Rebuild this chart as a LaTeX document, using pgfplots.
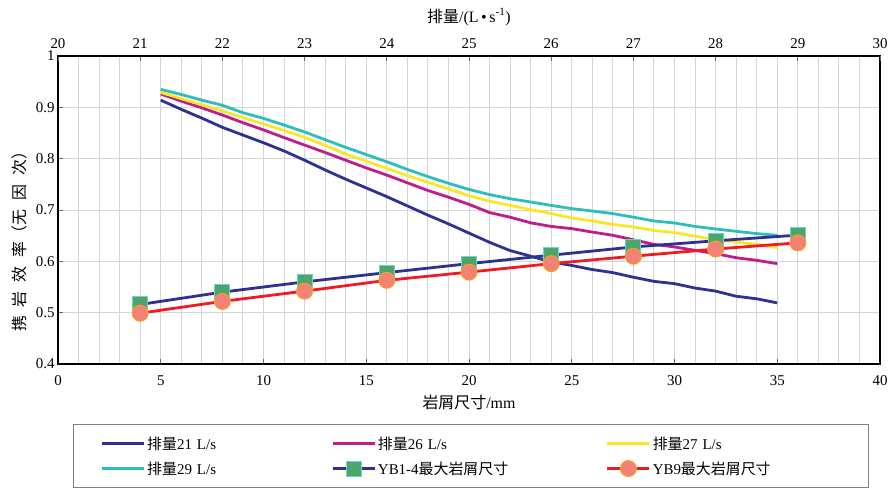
\documentclass[border=0pt]{standalone}
\usepackage{fontspec}
\setmainfont{Liberation Serif}
\newfontfamily\cjk{Noto Sans CJK SC}
\usepackage{pgfplots}
\pgfplotsset{compat=1.18}
\definecolor{c21}{RGB}{46,49,146}
\definecolor{c26}{RGB}{190,30,140}
\definecolor{c27}{RGB}{250,230,40}
\definecolor{c29}{RGB}{45,190,185}
\definecolor{cred}{RGB}{237,28,36}
\definecolor{sqfill}{RGB}{76,166,106}
\definecolor{sqedge}{RGB}{110,210,210}
\definecolor{cifill}{RGB}{242,130,120}
\definecolor{ciedge}{RGB}{247,160,30}
\definecolor{gridc}{RGB}{212,212,212}
\newcommand{\g}{\hspace{9bp}}
\begin{document}
\begin{tikzpicture}
\path[use as bounding box] (-58bp,-127bp) rectangle (831bp,364bp);
\begin{axis}[
  width=822bp, height=308bp, scale only axis,
  xmin=0, xmax=40, ymin=0.4, ymax=1,
  xtick={0,5,...,40}, minor xtick={0,1,...,40},
  ytick={0.4,0.5,0.6,0.7,0.8,0.9,1},
  xmajorgrids, xminorgrids, ymajorgrids,
  grid style={gridc, line width=1bp},
  axis line style={black, line width=1.2bp},
  tick align=inside, major tick length=5bp, minor tick length=0pt,
  tick style={black!60, line width=0.8bp},
  xtick pos=lower, ytick pos=left,
  ticklabel style={font=\fontsize{15}{17}\selectfont},
  xticklabel style={yshift=-8bp},
  /pgf/number format/assume math mode=true,
  xlabel={{\cjk 岩屑尺寸}/mm},
  ylabel={\cjk 携\g 岩\g 效\g 率（无\g 因\g 次）},
  label style={font=\fontsize{16}{18}\selectfont},
  xlabel style={yshift=-3bp},
  ylabel style={at={(ticklabel cs:0.41)}, yshift=2bp},
  legend columns=3,
  legend cell align=left,
  legend image code/.code={\draw[mark repeat=2,mark phase=2,#1] plot coordinates {(0bp,0bp) (21bp,0bp) (42bp,0bp)};},
  legend style={at={(0.0182,-0.195)}, anchor=north west, draw=gray, line width=0.8bp,
    font=\fontsize{15}{17}\selectfont, inner xsep=27bp, inner ysep=10bp, row sep=7bp,
    nodes={inner sep=2bp, text depth=0.15em},
    /tikz/column 2/.style={text width=182bp},
    /tikz/column 4/.style={text width=226bp},
    /tikz/column 6/.style={text width=187bp}},
]
\addplot[c21, line width=2.8bp] coordinates {(5,0.914) (6,0.896) (7,0.879) (8,0.861) (9,0.846) (10,0.831) (11,0.815) (12,0.797) (13,0.778) (14,0.760) (15,0.743) (16,0.726) (17,0.708) (18,0.690) (19,0.673) (20,0.655) (21,0.637) (22,0.621) (23,0.610) (24,0.599) (25,0.592) (26,0.584) (27,0.578) (28,0.569) (29,0.561) (30,0.5565) (31,0.548) (32,0.542) (33,0.532) (34,0.527) (35,0.519)};
\addlegendentry{{\cjk 排量}21 L/s}
\addplot[c26, line width=2.8bp] coordinates {(5,0.926) (6,0.912) (7,0.899) (8,0.885) (9,0.870) (10,0.856) (11,0.841) (12,0.8265) (13,0.812) (14,0.797) (15,0.782) (16,0.768) (17,0.753) (18,0.738) (19,0.725) (20,0.711) (21,0.695) (22,0.686) (23,0.675) (24,0.668) (25,0.6637) (26,0.657) (27,0.6507) (28,0.642) (29,0.633) (30,0.628) (31,0.6214) (32,0.615) (33,0.607) (34,0.602) (35,0.5955)};
\addlegendentry{{\cjk 排量}26 L/s}
\addplot[c27, line width=2.8bp] coordinates {(5,0.929) (6,0.917) (7,0.905) (8,0.893) (9,0.880) (10,0.8675) (11,0.855) (12,0.8415) (13,0.826) (14,0.809) (15,0.795) (16,0.781) (17,0.767) (18,0.754) (19,0.741) (20,0.728) (21,0.717) (22,0.709) (23,0.7007) (24,0.693) (25,0.6845) (26,0.6786) (27,0.672) (28,0.667) (29,0.660) (30,0.656) (31,0.649) (32,0.642) (33,0.6376) (34,0.633) (35,0.6267)};
\addlegendentry{{\cjk 排量}27 L/s}
\addplot[c29, line width=2.8bp] coordinates {(5,0.935) (6,0.925) (7,0.914) (8,0.904) (9,0.8895) (10,0.8785) (11,0.8655) (12,0.852) (13,0.837) (14,0.822) (15,0.808) (16,0.794) (17,0.779) (18,0.765) (19,0.752) (20,0.740) (21,0.730) (22,0.722) (23,0.7156) (24,0.709) (25,0.7027) (26,0.698) (27,0.693) (28,0.686) (29,0.6786) (30,0.6747) (31,0.668) (32,0.663) (33,0.6585) (34,0.654) (35,0.6507)};
\addlegendentry{{\cjk 排量}29 L/s}
\addplot[c21, line width=2.8bp, mark=square*, mark size=7.5bp, mark options={solid, fill=sqfill, draw=sqedge, line width=1bp}] coordinates {(4,0.516) (8,0.540) (12,0.560) (16,0.578) (20,0.5955) (24,0.612) (28,0.628) (32,0.640) (36,0.651)};
\addlegendentry{YB1-4{\cjk 最大岩屑尺寸}}
\addplot[cred, line width=2.8bp, mark=*, mark size=8bp, mark options={solid, fill=cifill, draw=ciedge, line width=1bp}] coordinates {(4,0.499) (8,0.522) (12,0.542) (16,0.563) (20,0.579) (24,0.5955) (28,0.610) (32,0.624) (36,0.636)};
\addlegendentry{YB9{\cjk 最大岩屑尺寸}}
\end{axis}
\begin{axis}[
  width=822bp, height=308bp, scale only axis,
  xmin=20, xmax=30, ymin=0.4, ymax=1,
  axis x line*=top, axis y line=none,
  xtick={20,21,...,30},
  axis line style={black, line width=1.2bp},
  tick align=inside, major tick length=5bp,
  tick style={black!60, line width=0.8bp},
  ticklabel style={font=\fontsize{15}{17}\selectfont},
  xticklabel style={yshift=4bp},
  /pgf/number format/assume math mode=true,
  xlabel={{\cjk 排量}/(L\,•\,s\textsuperscript{-1})},
  label style={font=\fontsize{16}{18}\selectfont},
  xlabel style={yshift=6bp},
]
\addplot[draw=none] coordinates {(20,0.4)};
\end{axis}
\end{tikzpicture}
\end{document}
